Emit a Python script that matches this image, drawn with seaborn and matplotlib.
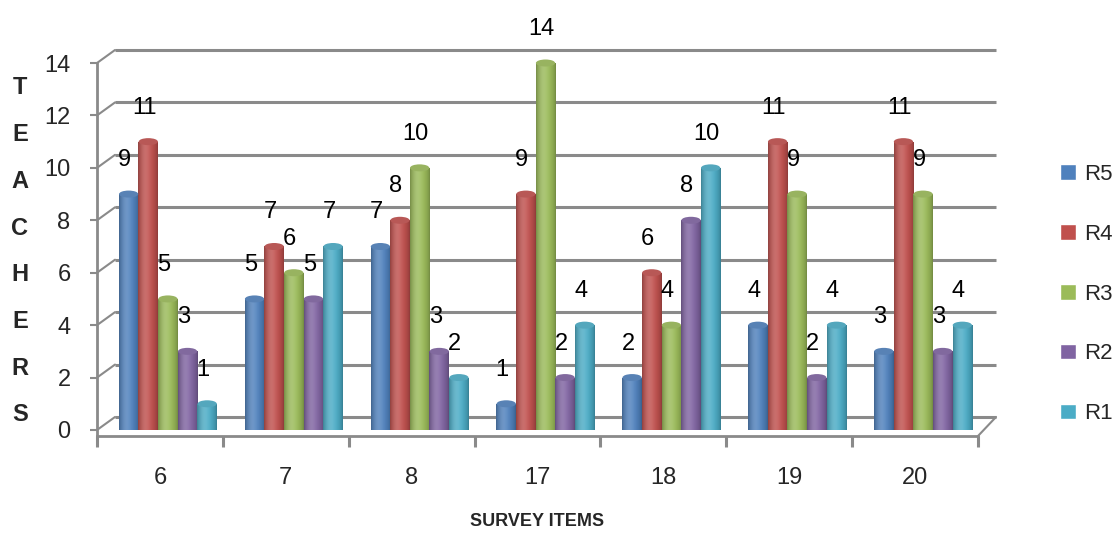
import numpy as np
import pandas as pd
import seaborn as sns
import matplotlib.pyplot as plt
from matplotlib.colors import to_rgb
from matplotlib.patches import Ellipse, Rectangle
from matplotlib.transforms import ScaledTranslation

# Survey data: number of teachers giving each rating per survey item
items = ["6", "7", "8", "17", "18", "19", "20"]
r5 = [9, 5, 7, 1, 2, 4, 3]
r4 = [11, 7, 8, 9, 6, 11, 11]
r3 = [5, 6, 10, 14, 4, 9, 9]
r2 = [3, 5, 3, 2, 8, 2, 3]
r1 = [1, 7, 2, 4, 10, 4, 4]
series = ["R5", "R4", "R3", "R2", "R1"]
colors = ["#4F81BD", "#C0504D", "#9BBB59", "#8064A2", "#4BACC6"]
yticks = [0, 2, 4, 6, 8, 10, 12, 14]

df = pd.DataFrame({
    "item": np.repeat(items, len(series)),
    "series": series * len(items),
    "count": np.ravel(np.column_stack([r5, r4, r3, r2, r1])),
})

sns.set_theme(style="white")
plt.rcParams["font.family"] = ["Liberation Sans", "DejaVu Sans"]

DPI = 100
fig = plt.figure(figsize=(11.14, 5.33), dpi=DPI)
# plot box in pixels: x 97..978, y 63..436 (top..bottom)
ax = fig.add_axes([97 / 1114, (533 - 436) / 533, 881 / 1114, (436 - 63) / 533])

ylo, yhi = -0.229, 14
xlo, xhi = -0.5, len(items) - 0.5
px_per_x = 881 / len(items)
px_per_y = 373 / (yhi - ylo)

sns.barplot(data=df, x="item", y="count", hue="series", order=items,
            hue_order=series, palette=colors, saturation=1, width=0.78,
            ax=ax, zorder=3)

grid_col = "#8a8a8a"
# back wall depth offset (in data units)
dx = 18 / px_per_x
dy = 13 / px_per_y

# back-wall gridlines and the diagonals joining them to the front axis
for v in yticks:
    ax.plot([xlo + dx, xhi + dx], [v + dy, v + dy], color=grid_col, lw=2.2,
            clip_on=False, zorder=1, solid_capstyle="butt")
    ax.plot([xlo, xlo + dx], [v, v + dy], color=grid_col, lw=1.5,
            clip_on=False, zorder=1)
ax.plot([xhi, xhi + dx], [ylo, dy], color=grid_col, lw=1.5, clip_on=False, zorder=1)

# bars sit slightly behind the front axis
shift = ScaledTranslation(8 / DPI, 0, fig.dpi_scale_trans)
lab_shift = ScaledTranslation(4 / DPI, 34 / DPI, fig.dpi_scale_trans)

for c, name, col in zip(ax.containers, series, colors):
    base = np.array(to_rgb(col))
    t = np.linspace(0, 1, 64)
    # cylinder shading: highlight left of centre, darker edges
    light = np.exp(-((t - 0.35) / 0.28) ** 2)
    shade = 0.72 + 0.28 * np.sin(np.pi * t) ** 0.6
    rgb = np.clip(base[None, :] * shade[:, None] + (1 - base[None, :]) * 0.18 * light[:, None], 0, 1)
    grad = rgb[None, :, :]
    for p in c:
        p.set_transform(ax.transData + shift)
        p.set_edgecolor("none")
        x0, w, h = p.get_x(), p.get_width(), p.get_height()
        im = ax.imshow(grad, extent=[x0, x0 + w, 0, h], aspect="auto",
                       interpolation="bilinear", zorder=3.5)
        im.set_transform(ax.transData + shift)
        clip = Rectangle((x0, 0), w, h, transform=ax.transData + shift)
        im.set_clip_path(clip)
        top = Ellipse((x0 + w / 2, h), w * 0.98, 7 / px_per_y,
                      facecolor=np.clip(base * 0.85 + 0.08, 0, 1), edgecolor="none",
                      zorder=4, transform=ax.transData + shift, clip_on=False)
        ax.add_patch(top)
        ax.text(x0 + w / 2, h, f"{h:g}", ha="center", va="center",
                fontsize=17, color="black", zorder=5,
                transform=ax.transData + lab_shift)

ax.set_xlim(xlo, xhi)
ax.set_ylim(ylo, yhi)
ax.set_xlabel("")
ax.set_ylabel("")

# axes styling
for s in ["top", "right"]:
    ax.spines[s].set_visible(False)
for s in ["left", "bottom"]:
    ax.spines[s].set_color(grid_col)
    ax.spines[s].set_linewidth(2)
ax.set_yticks(yticks)
ax.set_yticklabels([str(v) for v in yticks])
ax.tick_params(axis="y", which="major", length=5, width=1.5, color=grid_col,
               direction="out", pad=14, labelsize=17, left=True)
ax.set_xticks(range(len(items)))
ax.set_xticklabels(items)
ax.set_xticks(np.arange(len(items) + 1) - 0.5, minor=True)
ax.tick_params(axis="x", which="major", length=0, pad=22, labelsize=17)
ax.tick_params(axis="x", which="minor", length=8, width=2.2, color=grid_col,
               direction="out", bottom=True)
ax.grid(False)

# vertical axis title, one letter per line
for i, ch in enumerate("TEACHERS"):
    fig.text(20 / 1114, 1 - (88 + i * 46.7) / 533, ch, ha="center", va="center",
             fontsize=17, fontweight="bold")
fig.text(537 / 1114, 1 - 522 / 533, "SURVEY ITEMS", ha="center", va="center",
         fontsize=13, fontweight="bold")

handles, labels = ax.get_legend_handles_labels()
ax.legend(handles, labels, loc="center left",
          bbox_to_anchor=(1060 / 1114, 1 - 294 / 533),
          bbox_transform=fig.transFigure, frameon=False, fontsize=16,
          handlelength=0.7, handleheight=0.7, handletextpad=0.4,
          labelspacing=1.75, borderaxespad=0, borderpad=0)

fig.savefig("out.png", dpi=DPI)
